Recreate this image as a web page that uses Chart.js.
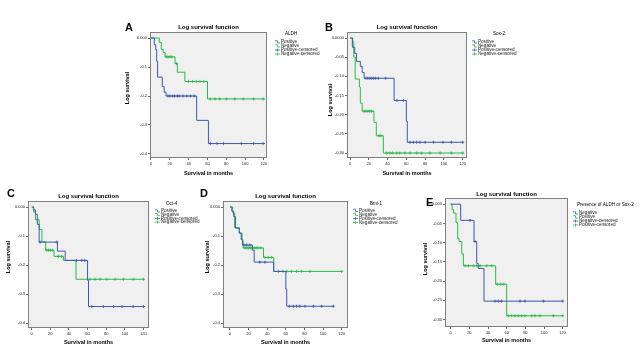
<!DOCTYPE html>
<html><head><meta charset="utf-8">
<script src="https://cdn.jsdelivr.net/npm/chart.js@4/dist/chart.umd.min.js"></script>
<style>
html,body{margin:0;padding:0;background:#fff;}
body{width:640px;height:360px;position:relative;overflow:hidden;}
canvas{position:absolute;}
</style></head>
<body>
<canvas id="cA"></canvas><canvas id="cB"></canvas><canvas id="cC"></canvas><canvas id="cD"></canvas><canvas id="cE"></canvas>
<script>
// ---------- shared ----------
const monthTicks = [0, 20, 40, 60, 80, 100, 120];
const titleText = 'Log survival function';
const xTitle = 'Survival in months';
const yTitle = 'Log survival';

// ---------- Panel A : ALDH ----------
const aYTicks = [0, -0.1, -0.2, -0.3, -0.4];
const aYLabels = ['0.000', '-0.1', '-0.2', '-0.3', '-0.4'];
const aLegendTitle = 'ALDH';
const aLegend = ['Positive', 'Negative', 'Positive-censored', 'Negative-censored'];
const aPosT = [0, 3.5, 5, 6, 7, 12, 14, 16, 48.5, 61, 121];
const aPosS = [0, -0.023, -0.04, -0.08, -0.135, -0.167, -0.187, -0.2, -0.284, -0.364, -0.364];
const aNegT = [0, 8.8, 11, 13, 15, 25.5, 28, 36, 60, 121];
const aNegS = [0, -0.015, -0.04, -0.05, -0.065, -0.088, -0.118, -0.15, -0.21, -0.21];
const aPosCT = [18, 20, 23, 25, 28, 30, 34, 38, 42, 46, 63, 70, 77, 96, 109, 119];
const aPosCS = [-0.2, -0.2, -0.2, -0.2, -0.2, -0.2, -0.2, -0.2, -0.2, -0.2, -0.364, -0.364, -0.364, -0.364, -0.364, -0.364];
const aNegCT = [16, 18, 20, 22, 27, 40, 44, 48, 52, 56, 63, 68, 73, 80, 89, 98, 109, 119];
const aNegCS = [-0.065, -0.065, -0.065, -0.065, -0.088, -0.15, -0.15, -0.15, -0.15, -0.15, -0.21, -0.21, -0.21, -0.21, -0.21, -0.21, -0.21, -0.21];

// ---------- Panel B : Sox-2 ----------
const bYTicks = [0, -0.05, -0.10, -0.15, -0.20, -0.25, -0.30];
const bYLabels = ['0.0000', '-0.05', '-0.10', '-0.15', '-0.20', '-0.25', '-0.30'];
const bLegendTitle = 'Sox-2';
const bLegend = ['Positive', 'Negative', 'Positive-censored', 'Negative-censored'];
const bPosT = [0, 2.5, 5, 7, 11, 13, 15, 47, 60, 61, 121];
const bPosS = [0, -0.024, -0.04, -0.061, -0.074, -0.09, -0.105, -0.163, -0.217, -0.272, -0.272];
const bNegT = [0, 3, 4, 5.5, 10, 11, 13, 25.5, 28, 35.5, 121];
const bNegS = [0, -0.01, -0.05, -0.107, -0.128, -0.17, -0.191, -0.22, -0.255, -0.3, -0.3];
const bPosCT = [17, 19, 21, 23, 25, 27, 30, 38, 50, 57, 64, 67.5, 71, 74.5, 80, 89, 99, 108, 120];
const bPosCS = [-0.105, -0.105, -0.105, -0.105, -0.105, -0.105, -0.105, -0.105, -0.163, -0.163, -0.272, -0.272, -0.272, -0.272, -0.272, -0.272, -0.272, -0.272, -0.272];
const bNegCT = [15, 17, 19, 21, 23, 31, 33, 39, 42.6, 45.4, 49.7, 53, 58.6, 64, 71, 76, 85, 96, 108, 120];
const bNegCS = [-0.191, -0.191, -0.191, -0.191, -0.191, -0.255, -0.255, -0.3, -0.3, -0.3, -0.3, -0.3, -0.3, -0.3, -0.3, -0.3, -0.3, -0.3, -0.3, -0.3];

// ---------- Panel C : Oct-4 ----------
const cYTicks = [0, -0.1, -0.2, -0.3, -0.4];
const cYLabels = ['0.000', '-0.1', '-0.2', '-0.3', '-0.4'];
const cLegendTitle = 'Oct-4';
const cLegend = ['Positive', 'Negative', 'Positive-censored', 'Negative-censored'];
const cPosT = [0, 2, 4, 6, 8, 27.6, 36, 60, 61, 121];
const cPosS = [0, -0.01, -0.025, -0.06, -0.121, -0.152, -0.184, -0.253, -0.343, -0.343];
const cNegT = [0, 2, 4, 8, 11, 15, 24, 34, 47.6, 121];
const cNegS = [0, -0.017, -0.044, -0.077, -0.12, -0.149, -0.17, -0.184, -0.249, -0.249];
const cPosCT = [9, 27, 48, 53.7, 57, 64.5, 77, 88, 97, 109, 120];
const cPosCS = [-0.121, -0.121, -0.184, -0.184, -0.184, -0.343, -0.343, -0.343, -0.343, -0.343, -0.343];
const cNegCT = [16, 18, 20, 22, 28.7, 32, 62.7, 68, 73.4, 80.6, 89.6, 98.5, 109, 120];
const cNegCS = [-0.149, -0.149, -0.149, -0.149, -0.17, -0.17, -0.249, -0.249, -0.249, -0.249, -0.249, -0.249, -0.249, -0.249];

// ---------- Panel D : Bmi-1 ----------
const dYTicks = [0, -0.1, -0.2, -0.3, -0.4];
const dYLabels = ['0.000', '-0.1', '-0.2', '-0.3', '-0.4'];
const dLegendTitle = 'Bmi-1';
const dLegend = ['Positive', 'Negative', 'Positive-censored', 'Negative-censored'];
const dPosT = [0, 2, 4, 6, 10, 12, 13.5, 24, 26, 47, 60, 61, 111];
const dPosS = [0, -0.015, -0.033, -0.073, -0.09, -0.112, -0.131, -0.149, -0.19, -0.222, -0.283, -0.342, -0.342];
const dNegT = [0, 3, 5, 10, 13, 14, 36, 47, 120];
const dNegS = [0, -0.021, -0.071, -0.09, -0.114, -0.141, -0.174, -0.222, -0.222];
const dPosCT = [15, 18, 21.5, 32, 37.6, 63.8, 68, 71.6, 75, 80.6, 89.6, 98.5, 111];
const dPosCS = [-0.131, -0.131, -0.131, -0.19, -0.19, -0.342, -0.342, -0.342, -0.342, -0.342, -0.342, -0.342, -0.342];
const dNegCT = [16, 18, 20, 22, 24, 26, 28, 30, 33, 37.6, 41, 44.8, 52, 57, 61, 66, 71.6, 77, 86, 120];
const dNegCS = [-0.141, -0.141, -0.141, -0.141, -0.141, -0.141, -0.141, -0.141, -0.141, -0.174, -0.174, -0.174, -0.222, -0.222, -0.222, -0.222, -0.222, -0.222, -0.222, -0.222];

// ---------- Panel E : Presence of ALDH or Sox-2 ----------
const eYTicks = [0, -0.05, -0.10, -0.15, -0.20, -0.25, -0.30];
const eYLabels = ['0.000', '-0.05', '-0.10', '-0.15', '-0.20', '-0.25', '-0.30'];
const eLegendTitle = 'Presence of ALDH or Sox-2';
const eLegend = ['Negative', 'Positive', 'Negative-censored', 'Positive-censored'];
const eNegT = [0, 10.7, 25, 27.9, 29.5, 35.7, 120];
const eNegS = [0, -0.042, -0.097, -0.154, -0.167, -0.252, -0.252];
const ePosT = [0, 1.5, 3, 5.7, 7.5, 9, 11.8, 13.6, 48.2, 60, 120];
const ePosS = [0, -0.014, -0.023, -0.048, -0.089, -0.097, -0.129, -0.16, -0.208, -0.29, -0.29];
const eNegCT = [20.7, 26, 47.5, 51, 54.6, 74.3, 79.6, 99.3, 120];
const eNegCS = [-0.042, -0.097, -0.252, -0.252, -0.252, -0.252, -0.252, -0.252, -0.252];
const ePosCT = [15.4, 19, 24.3, 27.9, 31.4, 38.6, 44, 50, 53.6, 57, 61.8, 65.4, 69, 72.5, 76, 79.6, 86.8, 90.4, 95.7, 110, 120];
const ePosCS = [-0.16, -0.16, -0.16, -0.16, -0.16, -0.16, -0.16, -0.208, -0.208, -0.208, -0.29, -0.29, -0.29, -0.29, -0.29, -0.29, -0.29, -0.29, -0.29, -0.29, -0.29];

// ---------- styling / layout ----------
const BLUE = '#3E58AC';
const GREEN = '#2EB848';
const FONT = '"Liberation Sans", Arial, sans-serif';

const panels = [
  { id: 'cA', letter: 'A', canvas: [115, 12, 215, 168], plot: [150, 32, 267, 158], x: [-1.06, 123.2], y: [-0.4138, 0.0207],
    yTicks: aYTicks, yLabels: aYLabels, legTitle: aLegendTitle, leg: aLegend,
    s1: [aPosT, aPosS, aPosCT, aPosCS], s2: [aNegT, aNegS, aNegCT, aNegCS],
    letterPos: [125, 31], titleY: 27, yTitlePos: [127, 88], xTitleY: 173, legX: 275, legTitleX: 285, legTitleY: 34, legRows: [42, 46, 50, 54] },
  { id: 'cB', letter: 'B', canvas: [322, 12, 208, 168], plot: [347, 32, 467, 158], x: [-3.2, 124.6], y: [-0.313, 0.0157],
    yTicks: bYTicks, yLabels: bYLabels, legTitle: bLegendTitle, leg: bLegend,
    s1: [bPosT, bPosS, bPosCT, bPosCS], s2: [bNegT, bNegS, bNegCT, bNegCS],
    letterPos: [325, 31], titleY: 27, yTitlePos: [330, 100], xTitleY: 173, legX: 472, legTitleX: 493, legTitleY: 34, legRows: [42, 46, 50, 54] },
  { id: 'cC', letter: 'C', canvas: [0, 183, 205, 167], plot: [28, 201, 149, 328], x: [-4, 126], y: [-0.417, 0.0207],
    yTicks: cYTicks, yLabels: cYLabels, legTitle: cLegendTitle, leg: cLegend,
    s1: [cPosT, cPosS, cPosCT, cPosCS], s2: [cNegT, cNegS, cNegCT, cNegCS],
    letterPos: [7, 197], titleY: 196, yTitlePos: [8, 257], xTitleY: 342, legX: 155, legTitleX: 166, legTitleY: 204, legRows: [211, 214.7, 218.4, 222.1] },
  { id: 'cD', letter: 'D', canvas: [200, 183, 210, 167], plot: [223, 201, 348, 328], x: [-7.5, 126.8], y: [-0.417, 0.0207],
    yTicks: dYTicks, yLabels: dYLabels, legTitle: dLegendTitle, leg: dLegend,
    s1: [dPosT, dPosS, dPosCT, dPosCS], s2: [dNegT, dNegS, dNegCT, dNegCS],
    letterPos: [200, 197], titleY: 196, yTitlePos: [207, 257], xTitleY: 342, legX: 353, legTitleX: 370, legTitleY: 204, legRows: [210.5, 214.5, 218.5, 222.5] },
  { id: 'cE', letter: 'E', canvas: [412, 183, 228, 167], plot: [445, 198, 568, 327], x: [-6.1, 125.7], y: [-0.3192, 0.0161],
    yTicks: eYTicks, yLabels: eYLabels, legTitle: eLegendTitle, leg: eLegend,
    s1: [eNegT, eNegS, eNegCT, eNegCS], s2: [ePosT, ePosS, ePosCT, ePosCS],
    letterPos: [426, 206], titleY: 194, yTitlePos: [425, 259], xTitleY: 340, legX: 573, legTitleX: 577, legTitleY: 205, legRows: [213, 217, 221, 225] }
];

function pts(t, s) { return t.map((v, i) => ({ x: v, y: s[i] })); }

const deco = {
  id: 'deco',
  beforeDraw(chart) {
    const p = chart.options.plugins.deco.p;
    const a = chart.chartArea, ctx = chart.ctx;
    ctx.save();
    ctx.fillStyle = '#f0f0f0';
    ctx.fillRect(a.left, a.top, a.right - a.left, a.bottom - a.top);
    ctx.restore();
  },
  afterDraw(chart) {
    const p = chart.options.plugins.deco.p;
    const a = chart.chartArea, ctx = chart.ctx;
    const ox = p.canvas[0], oy = p.canvas[1];
    ctx.save();
    // frame
    ctx.strokeStyle = '#808080';
    ctx.lineWidth = 1;
    ctx.strokeRect(Math.round(a.left) + 0.5, Math.round(a.top) + 0.5, Math.round(a.right - a.left) - 1, Math.round(a.bottom - a.top) - 1);
    ctx.fillStyle = '#000';
    // panel letter
    ctx.font = 'bold 11px ' + FONT;
    ctx.textAlign = 'left'; ctx.textBaseline = 'alphabetic';
    ctx.fillText(p.letter, p.letterPos[0] - ox, p.letterPos[1] - oy);
    // title
    ctx.font = 'bold 6px ' + FONT;
    ctx.textAlign = 'center'; ctx.textBaseline = 'middle';
    ctx.fillText(titleText, (a.left + a.right) / 2, p.titleY - oy);
    // x title
    ctx.font = 'bold 5.5px ' + FONT;
    ctx.fillText(xTitle, (a.left + a.right) / 2, p.xTitleY - oy);
    // y title
    ctx.save();
    ctx.translate(p.yTitlePos[0] - ox, p.yTitlePos[1] - oy);
    ctx.rotate(-Math.PI / 2);
    ctx.font = 'bold 5.5px ' + FONT;
    ctx.fillText(yTitle, 0, 0);
    ctx.restore();
    // legend
    ctx.font = '4.6px ' + FONT;
    ctx.textAlign = 'left';
    ctx.fillText(p.legTitle, p.legTitleX - ox, p.legTitleY - oy);
    const cols = [BLUE, GREEN, BLUE, GREEN];
    p.leg.forEach((txt, i) => {
      const y = p.legRows[i] - oy, x = p.legX - ox;
      ctx.strokeStyle = cols[i];
      ctx.lineWidth = 0.8;
      ctx.beginPath();
      if (i < 2) {
        ctx.moveTo(x, y - 1.2); ctx.lineTo(x + 2.5, y - 1.2); ctx.lineTo(x + 2.5, y + 1); ctx.lineTo(x + 5, y + 1);
      } else {
        ctx.moveTo(x, y); ctx.lineTo(x + 5, y);
        ctx.moveTo(x + 2.5, y - 1.5); ctx.lineTo(x + 2.5, y + 1.5);
      }
      ctx.stroke();
      ctx.fillStyle = '#222';
      ctx.fillText(txt, x + 6, y);
    });
    ctx.restore();
  }
};

panels.forEach(p => {
  const cv = document.getElementById(p.id);
  const [cx, cy, cw, ch] = p.canvas;
  const [px1, py1, px2, py2] = p.plot;
  cv.width = cw; cv.height = ch;
  cv.style.left = cx + 'px'; cv.style.top = cy + 'px';
  cv.style.width = cw + 'px'; cv.style.height = ch + 'px';
  const mk = (s, col) => ([
    { data: pts(s[0], s[1]), stepped: 'before', borderColor: col, borderWidth: 1, pointRadius: 0, fill: false },
    { data: pts(s[2], s[3]), showLine: false, borderColor: col, backgroundColor: col, pointStyle: 'cross', pointRadius: 1.6, pointBorderWidth: 0.8 }
  ]);
  const ds = [...mk(p.s1, BLUE), ...mk(p.s2, GREEN)];
  new Chart(cv, {
    type: 'line',
    data: { datasets: ds },
    plugins: [deco],
    options: {
      responsive: false, animation: false, devicePixelRatio: 1,
      layout: { padding: { left: 0, top: py1 - cy, right: cx + cw - px2, bottom: 0 } },
      plugins: { legend: { display: false }, tooltip: { enabled: false }, title: { display: false }, deco: { p } },
      scales: {
        x: {
          type: 'linear', min: p.x[0], max: p.x[1],
          afterFit(s) { s.height = cy + ch - py2; },
          afterBuildTicks(s) { s.ticks = monthTicks.map(v => ({ value: v })); },
          ticks: { font: { size: 4, family: FONT }, color: '#222', padding: 1, maxRotation: 0, autoSkip: false, callback: (v) => String(v) },
          grid: { drawOnChartArea: false, drawTicks: true, tickLength: 2, color: '#444', lineWidth: 0.8 },
          border: { display: false }
        },
        y: {
          type: 'linear', min: p.y[0], max: p.y[1],
          afterFit(s) { s.width = px1 - cx; },
          afterBuildTicks(s) { s.ticks = p.yTicks.map(v => ({ value: v })); },
          ticks: { font: { size: 4, family: FONT }, color: '#222', padding: 1, autoSkip: false, callback: (v, i) => p.yLabels[i] },
          grid: { drawOnChartArea: false, drawTicks: true, tickLength: 2, color: '#444', lineWidth: 0.8 },
          border: { display: false }
        }
      }
    }
  });
});
</script>
</body></html>
